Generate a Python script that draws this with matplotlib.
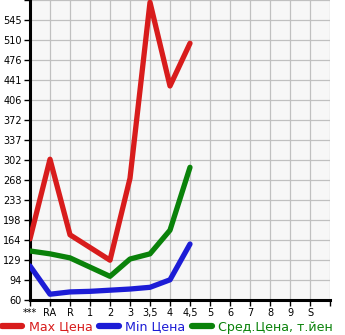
import matplotlib.pyplot as plt
import numpy as np

categories = ["***", "RA", "R", "1", "2", "3", "3,5", "4", "4,5", "5", "6", "7", "8", "9", "S"]
max_price = [166, 304, 173, 151, 129, 271, 576, 431, 505]
min_price = [119, 70, 74, 75, 77, 79, 82, 95, 157]
avg_price = [145, 140, 133, 117, 101, 131, 140, 181, 290]
y_ticks = [60, 94.67, 129.33, 164, 198.67, 233.33, 268, 302.67, 337.33, 372,
           406.67, 441.33, 476, 510.67, 545.33, 580]
y_labels = ["60", "94", "129", "164", "198", "233", "268", "302", "337", "372",
            "406", "441", "476", "510", "545", ""]

RED = "#d81c1c"
BLUE = "#1c1cd6"
GREEN = "#0a820a"

fig = plt.figure(figsize=(3.45, 3.35), dpi=100)
ax = fig.add_axes([30 / 345, 35 / 335, 300 / 345, 300 / 335])
ax.set_facecolor("#f7f7f7")

x = np.arange(len(categories))
lw = 3.8
ax.plot(x[:len(max_price)], max_price, color=RED, lw=lw, solid_capstyle="round",
        solid_joinstyle="round", label="Max Цена", zorder=3)
ax.plot(x[:len(min_price)], min_price, color=BLUE, lw=lw, solid_capstyle="round",
        solid_joinstyle="round", label="Min Цена", zorder=3)
ax.plot(x[:len(avg_price)], avg_price, color=GREEN, lw=lw, solid_capstyle="round",
        solid_joinstyle="round", label="Сред.Цена, т.йен", zorder=3)

ax.set_xlim(0, 15)
ax.set_ylim(60, 580)
ax.set_xticks(np.arange(16))
ax.set_xticklabels(categories + [""], fontsize=7)
ax.set_yticks(y_ticks)
ax.set_yticklabels(y_labels, fontsize=7)
ax.grid(True, color="#c0c0c0", lw=0.9, zorder=1)
ax.set_axisbelow(True)

for side in ("top", "right"):
    ax.spines[side].set_visible(False)
for side in ("left", "bottom"):
    ax.spines[side].set_linewidth(2.2)
ax.tick_params(axis="both", length=4, width=1, pad=2, direction="out")

leg = ax.legend(loc="center left", bbox_to_anchor=(-28 / 300, -27 / 300), ncol=3,
                frameon=False, fontsize=9.1, handlelength=1.6, handletextpad=0.5,
                columnspacing=0.5, borderaxespad=0, borderpad=0)
for line, text in zip(leg.get_lines(), leg.get_texts()):
    line.set_linewidth(4.5)
    line.set_solid_capstyle("round")
    text.set_color(line.get_color())

fig.savefig("out.png", dpi=100)
